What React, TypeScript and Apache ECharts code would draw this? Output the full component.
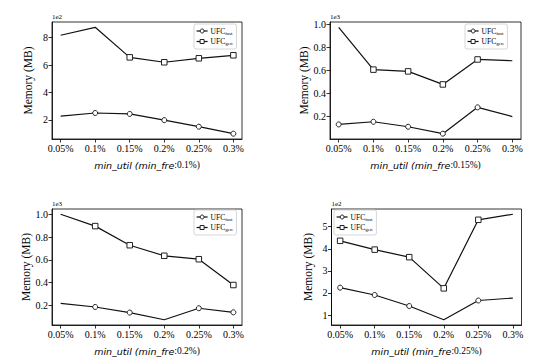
import React, { useEffect, useRef } from "react";
import * as echarts from "echarts";

const CATEGORIES = ["0.05%", "0.1%", "0.15%", "0.2%", "0.25%", "0.3%"];
const MIN_FRE = ["0.1%", "0.15%", "0.2%", "0.25%"];
const SERIES_NAMES = ["UFC_fast", "UFC_gen"];

// Memory in MB per panel
const FAST = [
  [227, 250, 243, 198, 150, 99],
  [132, 155, 112, 52, 280, 200],
  [217, 185, 136, 73, 174, 138],
  [224, 191, 141, 79, 166, 177],
];
const GEN = [
  [817, 875, 656, 620, 649, 671],
  [972, 606, 591, 478, 694, 683],
  [1000, 896, 728, 635, 605, 378],
  [436, 396, 362, 221, 531, 556],
];
// whether a marker is drawn at each point
const FAST_MARK = [
  [0, 1, 1, 1, 1, 1],
  [1, 1, 1, 1, 1, 0],
  [0, 1, 1, 0, 1, 1],
  [1, 1, 1, 0, 1, 0],
];
const GEN_MARK = [
  [0, 0, 1, 1, 1, 1],
  [0, 1, 1, 1, 1, 0],
  [0, 1, 1, 1, 1, 1],
  [1, 1, 1, 1, 1, 0],
];
const SCALE = [100, 1000, 1000, 100];
const SCALE_LABEL = ["1e2", "1e3", "1e3", "1e2"];
const Y_TICKS = [
  [200, 400, 600, 800],
  [200, 400, 600, 800, 1000],
  [200, 400, 600, 800, 1000],
  [100, 200, 300, 400, 500],
];

const GRIDS = [
  { left: 52, top: 22, width: 190, height: 117 },
  { left: 330, top: 22, width: 191, height: 117 },
  { left: 52, top: 209, width: 190, height: 116 },
  { left: 331.5, top: 209, width: 190, height: 116 },
];
const LEGENDS = [
  { left: 194, top: 24 },
  { left: 465, top: 24 },
  { left: 194, top: 210 },
  { left: 334, top: 210 },
];

const SERIF = "Liberation Serif";
const SANS = "DejaVu Sans";

export default function App() {
  const ref = useRef<HTMLDivElement>(null);
  useEffect(() => {
    document.body.style.margin = "0";
    const chart = echarts.init(ref.current!, null, { renderer: "svg" });
    const xIdx = CATEGORIES.map((_, i) => i);

    const grid: any[] = [];
    const xAxis: any[] = [];
    const yAxis: any[] = [];
    const series: any[] = [];
    const legend: any[] = [];
    const graphic: any[] = [];

    for (let p = 0; p < 4; p++) {
      grid.push({ ...GRIDS[p], show: true, borderColor: "#000", borderWidth: 0.8, backgroundColor: "transparent" });
      const all = FAST[p].concat(GEN[p]);
      const lo = Math.min(...all);
      const hi = Math.max(...all);
      const pad = (hi - lo) * 0.05;
      const scale = SCALE[p];
      xAxis.push({
        type: "value",
        gridIndex: p,
        min: -0.25,
        max: 5.25,
        splitLine: { show: false },
        axisLine: { show: true, onZero: false, lineStyle: { color: "#000", width: 0.8 } },
        axisTick: { show: true, customValues: xIdx, length: 3.5, lineStyle: { color: "#000", width: 0.8 } },
        axisLabel: {
          customValues: xIdx,
          formatter: (v: number) => CATEGORIES[Math.round(v)],
          color: "#000",
          fontFamily: SERIF,
          fontSize: 10,
          margin: 4,
        },
        name: `{i|min_util (min_fre}{n|:${MIN_FRE[p]})}`,
        nameLocation: "middle",
        nameGap: 21,
        nameTextStyle: {
          rich: {
            i: { fontFamily: SANS, fontStyle: "italic", fontSize: 9.5, color: "#000" },
            n: { fontFamily: SERIF, fontSize: 9.5, color: "#000" },
          },
        },
      });
      yAxis.push({
        type: "value",
        gridIndex: p,
        min: lo - pad,
        max: hi + pad,
        splitLine: { show: false },
        axisLine: { show: true, onZero: false, lineStyle: { color: "#000", width: 0.8 } },
        axisTick: { show: true, customValues: Y_TICKS[p], length: 3.5, lineStyle: { color: "#000", width: 0.8 } },
        axisLabel: {
          customValues: Y_TICKS[p],
          formatter: (v: number) => (scale === 1000 ? (v / scale).toFixed(1) : String(Math.round(v / scale))),
          color: "#000",
          fontFamily: SERIF,
          fontSize: 10,
          margin: 4,
        },
        name: "Memory (MB)",
        nameLocation: "middle",
        nameGap: 18,
        nameTextStyle: { fontFamily: SERIF, fontSize: 11.5, color: "#000" },
      });
      graphic.push({
        type: "text",
        left: GRIDS[p].left,
        top: GRIDS[p].top - 9,
        style: { text: SCALE_LABEL[p], font: `7px ${SERIF}`, fill: "#000" },
      });
      const mk = (vals: number[], marks: number[]) =>
        vals.map((v, i) => (marks[i] ? { value: [i, v] } : { value: [i, v], symbol: "none" }));
      [FAST[p], GEN[p]].forEach((vals, s) => {
        series.push({
          type: "line",
          name: SERIES_NAMES[s],
          xAxisIndex: p,
          yAxisIndex: p,
          data: mk(vals, s === 0 ? FAST_MARK[p] : GEN_MARK[p]),
          symbol: s === 0 ? "circle" : "rect",
          symbolSize: s === 0 ? 5 : 5.5,
          showAllSymbol: true,
          lineStyle: { color: "#111", width: 1.2 },
          itemStyle: { color: "#fff", borderColor: "#222", borderWidth: 1 },
          emphasis: { disabled: true },
        });
      });
      legend.push({
        ...LEGENDS[p],
        orient: "vertical",
        data: SERIES_NAMES,
        itemWidth: 11,
        itemHeight: 5,
        itemGap: 2,
        padding: [3, 4, 3, 2],
        borderColor: "#ccc",
        borderWidth: 0.8,
        borderRadius: 2,
        backgroundColor: "#fff",
        selectedMode: false,
        itemStyle: { color: "#fff", borderColor: "#222", borderWidth: 1 },
        lineStyle: { color: "#111", width: 1.2 },
        formatter: (name: string) => {
          const [a, b] = name.split("_");
          return `{a|${a}}{b|${b}}`;
        },
        textStyle: {
          padding: [0, 0, 0, -2],
          rich: {
            a: { fontFamily: SERIF, fontSize: 7.5, color: "#000", lineHeight: 9 },
            b: { fontFamily: SERIF, fontSize: 5, color: "#000", verticalAlign: "bottom", lineHeight: 6 },
          },
        },
      });
    }

    chart.setOption({
      animation: false,
      backgroundColor: "#fff",
      grid,
      xAxis,
      yAxis,
      series,
      legend,
      graphic,
    });
    return () => chart.dispose();
  }, []);
  return <div ref={ref} style={{ width: 540, height: 360 }} />;
}
